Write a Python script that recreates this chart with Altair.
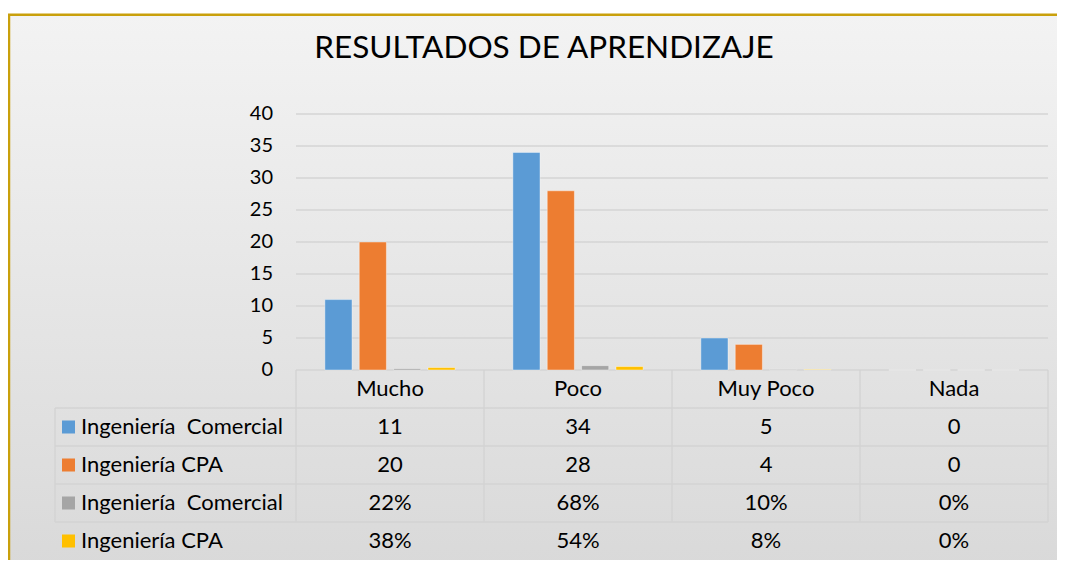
import altair as alt
import pandas as pd

# ---------------- data ----------------
categories = ["Mucho", "Poco", "Muy Poco", "Nada"]
series_ids = ["s0", "s1", "s2", "s3"]
series_labels = ["Ingeniería\u00a0 Comercial", "Ingeniería CPA",
                 "Ingeniería\u00a0 Comercial", "Ingeniería CPA"]
series_colors = ["#5B9BD5", "#ED7D31", "#A5A5A5", "#FFC000"]
comercial_count = [11, 34, 5, 0]
cpa_count = [20, 28, 4, 0]
comercial_pct = [0.22, 0.68, 0.10, 0.00]
cpa_pct = [0.38, 0.54, 0.08, 0.00]
y_ticks = [0, 5, 10, 15, 20, 25, 30, 35, 40]
title_text = "RESULTADOS DE APRENDIZAJE"

series_values = [comercial_count, cpa_count, comercial_pct, cpa_pct]
is_pct = [False, False, True, True]

rows = []
for sid, vals, pct in zip(series_ids, series_values, is_pct):
    for cat, v in zip(categories, vals):
        rows.append({"sid": sid, "row": sid, "cat": cat, "value": v,
                     "text": f"{round(v * 100)}%" if pct else f"{v}"})
bars_df = pd.DataFrame(rows)
header_df = pd.DataFrame({"row": ["hdr"] * len(categories), "cat": categories, "text": categories})
table_df = pd.concat([header_df, bars_df[["row", "cat", "text"]]], ignore_index=True)
legend_df = pd.DataFrame({"row": series_ids, "sid": series_ids, "label": series_labels})
ticks_df = pd.DataFrame({"v": y_ticks, "t": [str(t) for t in y_ticks]})

# ---------------- layout constants ----------------
W, H = 993, 446          # whole plot group (bars + data table)
LEG = 241                # width of the legend column of the table
PH = 256                 # height of the bar area
FONT = "Lato"

x_cat = alt.Scale(domain=categories, range=[LEG, W], paddingInner=0, paddingOuter=0)
y_val = alt.Scale(domain=[0, 40], range=[PH, 0])
y_row = alt.Scale(domain=["hdr"] + series_ids, range=[PH, H], paddingInner=0, paddingOuter=0)
y_rowq = alt.Scale(domain=[0, 5], range=[PH, H])
x_colq = alt.Scale(domain=[0, 4], range=[LEG, W])
color_scale = alt.Scale(domain=series_ids, range=series_colors)

one = pd.DataFrame({"k": [0]})

bg = alt.Chart(one).mark_rect(
    fill=alt.Gradient(gradient="linear",
                      stops=[alt.GradientStop(color="#F3F3F3", offset=0),
                             alt.GradientStop(color="#D8D8D8", offset=1)],
                      x1=0, x2=0, y1=0, y2=1),
    stroke="#C9A00C", strokeWidth=2.5
).encode(x=alt.value(-46), x2=alt.value(W + 40), y=alt.value(-99.3), y2=alt.value(H + 30))

grid = alt.Chart(pd.DataFrame({"v": y_ticks})).mark_rule(color="#D5D5D5", strokeWidth=1.3).encode(
    y=alt.Y("v:Q", scale=y_val, axis=None), x=alt.value(LEG), x2=alt.value(W))

tick_labels = alt.Chart(ticks_df).mark_text(font=FONT, fontSize=20, color="#000", align="right",
                                             baseline="middle").encode(
    y=alt.Y("v:Q", scale=y_val, axis=None), x=alt.value(LEG - 23), text="t:N")

vlines = alt.Chart(pd.DataFrame({"b": [0, 1, 2, 3, 4], "y0": [0] * 5, "y1": [4] * 5})).mark_rule(
    color="#D3D3D3", strokeWidth=1.3).encode(
    x=alt.X("b:Q", scale=x_colq, axis=None),
    y=alt.Y("y0:Q", scale=y_rowq, axis=None), y2="y1:Q")

left_line = alt.Chart(pd.DataFrame({"y0": [1], "y1": [4]})).mark_rule(
    color="#D3D3D3", strokeWidth=1.3).encode(
    x=alt.value(0), y=alt.Y("y0:Q", scale=y_rowq, axis=None), y2="y1:Q")

hlines = alt.Chart(pd.DataFrame({"k": [1, 2, 3, 4]})).mark_rule(
    color="#D3D3D3", strokeWidth=1.3).encode(
    y=alt.Y("k:Q", scale=y_rowq, axis=None), x=alt.value(0), x2=alt.value(W))

bars = alt.Chart(bars_df).mark_bar(stroke="white", strokeWidth=0.8, strokeOpacity=0.5).encode(
    x=alt.X("cat:N", scale=x_cat, axis=None, sort=categories),
    xOffset=alt.XOffset("sid:N", scale=alt.Scale(domain=series_ids, paddingInner=0.21, paddingOuter=0.84)),
    y=alt.Y("value:Q", scale=y_val, axis=None),
    color=alt.Color("sid:N", scale=color_scale, legend=None))

cells = alt.Chart(table_df).mark_text(font=FONT, fontSize=22, color="#000", baseline="middle").encode(
    x=alt.X("cat:N", scale=x_cat, axis=None, sort=categories),
    y=alt.Y("row:N", scale=y_row, axis=None),
    text="text:N")

squares = alt.Chart(legend_df).mark_square(size=169, opacity=1).encode(
    x=alt.value(13.5),
    y=alt.Y("row:N", scale=y_row, axis=None),
    color=alt.Color("sid:N", scale=color_scale, legend=None))

labels = alt.Chart(legend_df).mark_text(font=FONT, fontSize=22, color="#000", align="left",
                                         baseline="middle").encode(
    x=alt.value(26),
    y=alt.Y("row:N", scale=y_row, axis=None),
    text="label:N")

chart = alt.layer(bg, grid, tick_labels, vlines, left_line, hlines, bars, cells, squares, labels).resolve_scale(
    x="independent", y="independent"
).properties(
    width=W, height=H,
    title=alt.TitleParams(text=title_text, font=FONT, fontSize=31.5, fontWeight="normal", color="#000",
                          anchor="middle", frame="group", baseline="alphabetic", offset=-76.5, dx=-7.5),
    autosize=alt.AutoSizeParams(type="none"),
    padding={"left": 47, "top": 106, "right": 9, "bottom": 0},
).configure_view(stroke=None).configure(background="white")

chart.save("out.html", embed_options={"renderer": "svg", "actions": False})
